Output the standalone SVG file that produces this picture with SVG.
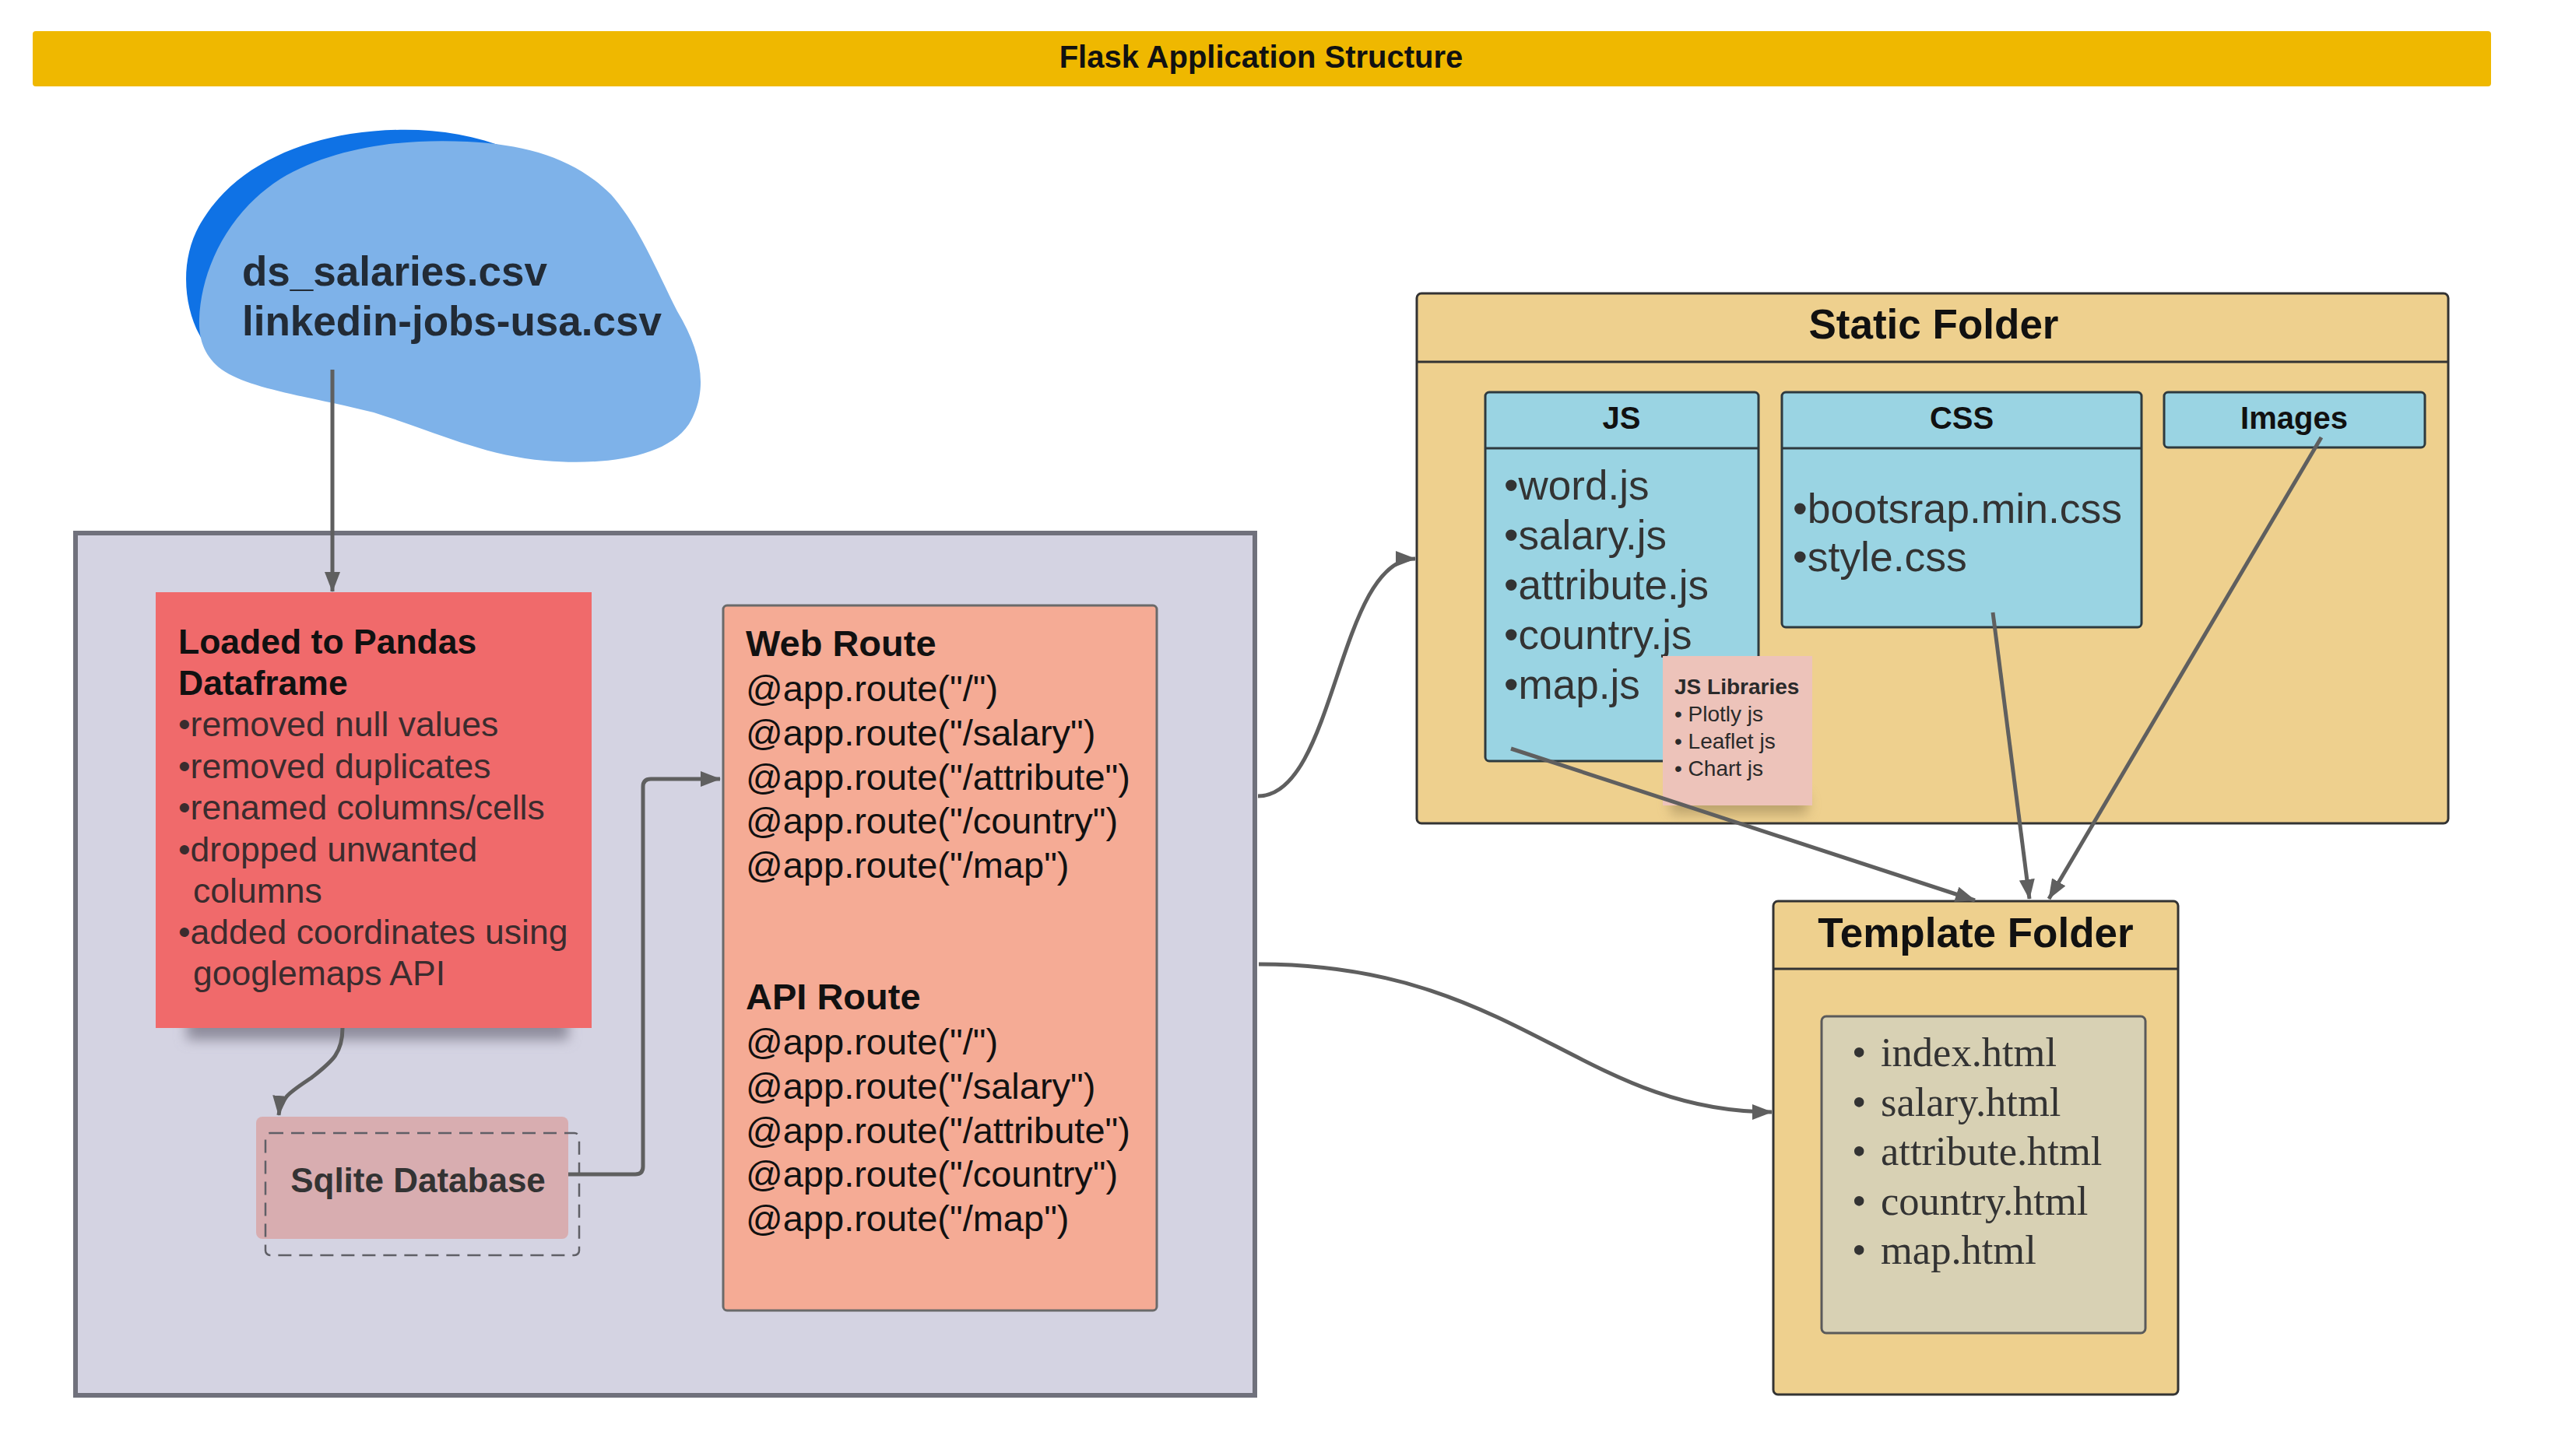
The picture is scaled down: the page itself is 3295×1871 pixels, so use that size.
<svg xmlns="http://www.w3.org/2000/svg" width="3295" height="1871" viewBox="0 0 3295 1871">
  <defs>
    <style>
      .sans { font-family: "Liberation Sans", Arial, sans-serif; }
      .serif { font-family: "Liberation Serif", "Times New Roman", serif; }
      .b { font-weight: bold; }
      .conn { fill: none; stroke: #5f5f5f; stroke-width: 5; }
      .tan { fill: #eed08e; stroke: #333; stroke-width: 3; }
      .blue { fill: #9ad4e3; stroke: #2e3a3f; stroke-width: 3; }
    </style>
    <marker id="arr" markerUnits="userSpaceOnUse" markerWidth="26" markerHeight="20" refX="25" refY="10" orient="auto">
      <path d="M0,0 L26,10 L0,20 Z" fill="#5f5f5f"/>
    </marker>
    <filter id="blur" x="-20%" y="-100%" width="140%" height="300%">
      <feGaussianBlur stdDeviation="8"/>
    </filter>
  </defs>

  <rect width="3295" height="1871" fill="#ffffff"/>

  <g id="title">
    <rect x="42" y="40" width="3158" height="71" rx="4" fill="#efb800"/>
    <text x="1620" y="87" text-anchor="middle" class="sans b" font-size="40" fill="#111">Flask Application Structure</text>
  </g>

  <g id="csv-source">
    <path d="M262,440 C235,400 228,330 262,280 C300,220 370,185 450,172 C520,162 590,165 655,192 L600,300 L300,420 Z" fill="#0f72e5"/>
    <path d="M256,410 C258,350 290,275 360,230 C430,188 520,178 600,182 C680,186 740,205 785,250 C820,290 840,340 870,400 C900,450 912,500 885,545 C855,590 770,598 700,592 C620,585 560,555 480,530 C400,510 320,500 285,475 C262,458 255,435 256,410 Z" fill="#7eb2e9"/>
    <text class="sans b" font-size="53" fill="#222b36"><tspan x="311" y="367">ds_salaries.csv</tspan><tspan x="311" y="431">linkedin-jobs-usa.csv</tspan></text>
  </g>

  <g id="flask-app">
    <rect x="97" y="685" width="1515" height="1108" fill="#d4d3e2" stroke="#70717c" stroke-width="6"/>
  </g>

  <g id="pandas">
    <rect x="240" y="1300" width="490" height="36" fill="#8e8c9c" filter="url(#blur)"/>
    <rect x="200" y="761" width="560" height="560" fill="#f06a6b"/>
    <text class="sans b" font-size="44.5" fill="#111"><tspan x="229" y="840">Loaded to Pandas</tspan><tspan x="229" y="893">Dataframe</tspan></text>
    <text class="sans" font-size="44.5" fill="#3b2c2e">
      <tspan x="229" y="946">•removed null values</tspan>
      <tspan x="229" y="1000">•removed duplicates</tspan>
      <tspan x="229" y="1053">•renamed columns/cells</tspan>
      <tspan x="229" y="1107">•dropped unwanted</tspan>
      <tspan x="248" y="1160">columns</tspan>
      <tspan x="229" y="1213">•added coordinates using</tspan>
      <tspan x="248" y="1266">googlemaps API</tspan>
    </text>
  </g>

  <g id="sqlite">
    <rect x="329" y="1435" width="401" height="157" rx="8" fill="#d8adb0"/>
    <rect x="341" y="1456" width="403" height="157" rx="6" fill="none" stroke="#5f5f66" stroke-width="2.5" stroke-dasharray="17 10"/>
    <text x="537" y="1532" text-anchor="middle" class="sans b" font-size="44" fill="#333">Sqlite Database</text>
  </g>

  <g id="routes">
    <rect x="929" y="778" width="557" height="906" rx="5" fill="#f5ab95" stroke="#6a6a6a" stroke-width="3"/>
    <text class="sans b" font-size="47" fill="#111"><tspan x="958" y="843">Web Route</tspan><tspan x="958" y="1297">API Route</tspan></text>
    <text class="sans" font-size="47" fill="#111">
      <tspan x="958" y="901">@app.route("/")</tspan>
      <tspan x="958" y="958">@app.route("/salary")</tspan>
      <tspan x="958" y="1015">@app.route("/attribute")</tspan>
      <tspan x="958" y="1071">@app.route("/country")</tspan>
      <tspan x="958" y="1128">@app.route("/map")</tspan>
      <tspan x="958" y="1355">@app.route("/")</tspan>
      <tspan x="958" y="1412">@app.route("/salary")</tspan>
      <tspan x="958" y="1469">@app.route("/attribute")</tspan>
      <tspan x="958" y="1525">@app.route("/country")</tspan>
      <tspan x="958" y="1582">@app.route("/map")</tspan>
    </text>
  </g>

  <g id="static-folder">
    <rect x="1820" y="377" width="1325" height="681" rx="6" class="tan"/>
    <line x1="1820" y1="465" x2="3145" y2="465" stroke="#333" stroke-width="3"/>
    <text x="2484" y="435" text-anchor="middle" class="sans b" font-size="53" fill="#111">Static Folder</text>
  </g>

  <g id="js">
    <rect x="1908" y="504" width="351" height="474" rx="5" class="blue"/>
    <line x1="1908" y1="576" x2="2259" y2="576" stroke="#2e3a3f" stroke-width="3"/>
    <text x="2083" y="551" text-anchor="middle" class="sans b" font-size="40" fill="#111">JS</text>
    <text class="sans" font-size="53" fill="#333">
      <tspan x="1932" y="642">•word.js</tspan>
      <tspan x="1932" y="706">•salary.js</tspan>
      <tspan x="1932" y="770">•attribute.js</tspan>
      <tspan x="1932" y="834">•country.js</tspan>
      <tspan x="1932" y="898">•map.js</tspan>
    </text>
  </g>

  <g id="css">
    <rect x="2289" y="504" width="462" height="302" rx="5" class="blue"/>
    <line x1="2289" y1="576" x2="2751" y2="576" stroke="#2e3a3f" stroke-width="3"/>
    <text x="2520" y="551" text-anchor="middle" class="sans b" font-size="40" fill="#111">CSS</text>
    <text class="sans" font-size="53.5" fill="#333">
      <tspan x="2303" y="672">•bootsrap.min.css</tspan>
      <tspan x="2303" y="734">•style.css</tspan>
    </text>
  </g>

  <g id="images">
    <rect x="2780" y="504" width="335" height="71" rx="5" class="blue"/>
    <text x="2947" y="551" text-anchor="middle" class="sans b" font-size="40" fill="#111">Images</text>
  </g>

  <g id="js-libraries">
    <rect x="2146" y="1020" width="176" height="26" fill="#9a8457" opacity="0.6" filter="url(#blur)"/>
    <rect x="2136" y="843" width="192" height="192" fill="#edc3ba"/>
    <text x="2151" y="892" class="sans b" font-size="28" fill="#2a2a2a">JS Libraries</text>
    <text class="sans" font-size="28" fill="#2a2a2a">
      <tspan x="2151" y="927">• Plotly js</tspan>
      <tspan x="2151" y="962">• Leaflet js</tspan>
      <tspan x="2151" y="997">• Chart js</tspan>
    </text>
  </g>

  <g id="template-folder">
    <rect x="2278" y="1158" width="520" height="634" rx="6" class="tan"/>
    <line x1="2278" y1="1245" x2="2798" y2="1245" stroke="#333" stroke-width="3"/>
    <text x="2538" y="1217" text-anchor="middle" class="sans b" font-size="53" fill="#111">Template Folder</text>
    <rect x="2340" y="1306" width="416" height="407" rx="6" fill="#d8d1b4" stroke="#5a5a5a" stroke-width="3"/>
    <text class="serif" font-size="52.5" fill="#333">
      <tspan x="2379" y="1370">•</tspan><tspan x="2416" y="1370">index.html</tspan>
      <tspan x="2379" y="1434">•</tspan><tspan x="2416" y="1434">salary.html</tspan>
      <tspan x="2379" y="1497">•</tspan><tspan x="2416" y="1497">attribute.html</tspan>
      <tspan x="2379" y="1561">•</tspan><tspan x="2416" y="1561">country.html</tspan>
      <tspan x="2379" y="1624">•</tspan><tspan x="2416" y="1624">map.html</tspan>
    </text>
  </g>

  <g id="connectors">
    <path class="conn" d="M427,475 V760" marker-end="url(#arr)"/>
    <path class="conn" d="M440,1321 C440,1355 425,1365 400,1385 C375,1402 360,1410 358,1433" marker-end="url(#arr)"/>
    <path class="conn" d="M730,1509 H816 Q826,1509 826,1499 V1011 Q826,1001 836,1001 H925" marker-end="url(#arr)"/>
    <path class="conn" d="M1616,1023 C1716,1023 1718,718 1818,718" marker-end="url(#arr)"/>
    <path class="conn" d="M1617,1239 C1947,1239 2031,1429 2276,1429" marker-end="url(#arr)"/>
    <path class="conn" d="M1941,962 L2537,1157" marker-end="url(#arr)"/>
    <path class="conn" d="M2560,787 L2607,1155" marker-end="url(#arr)"/>
    <path class="conn" d="M2982,562 L2632,1155" marker-end="url(#arr)"/>
  </g>
</svg>
